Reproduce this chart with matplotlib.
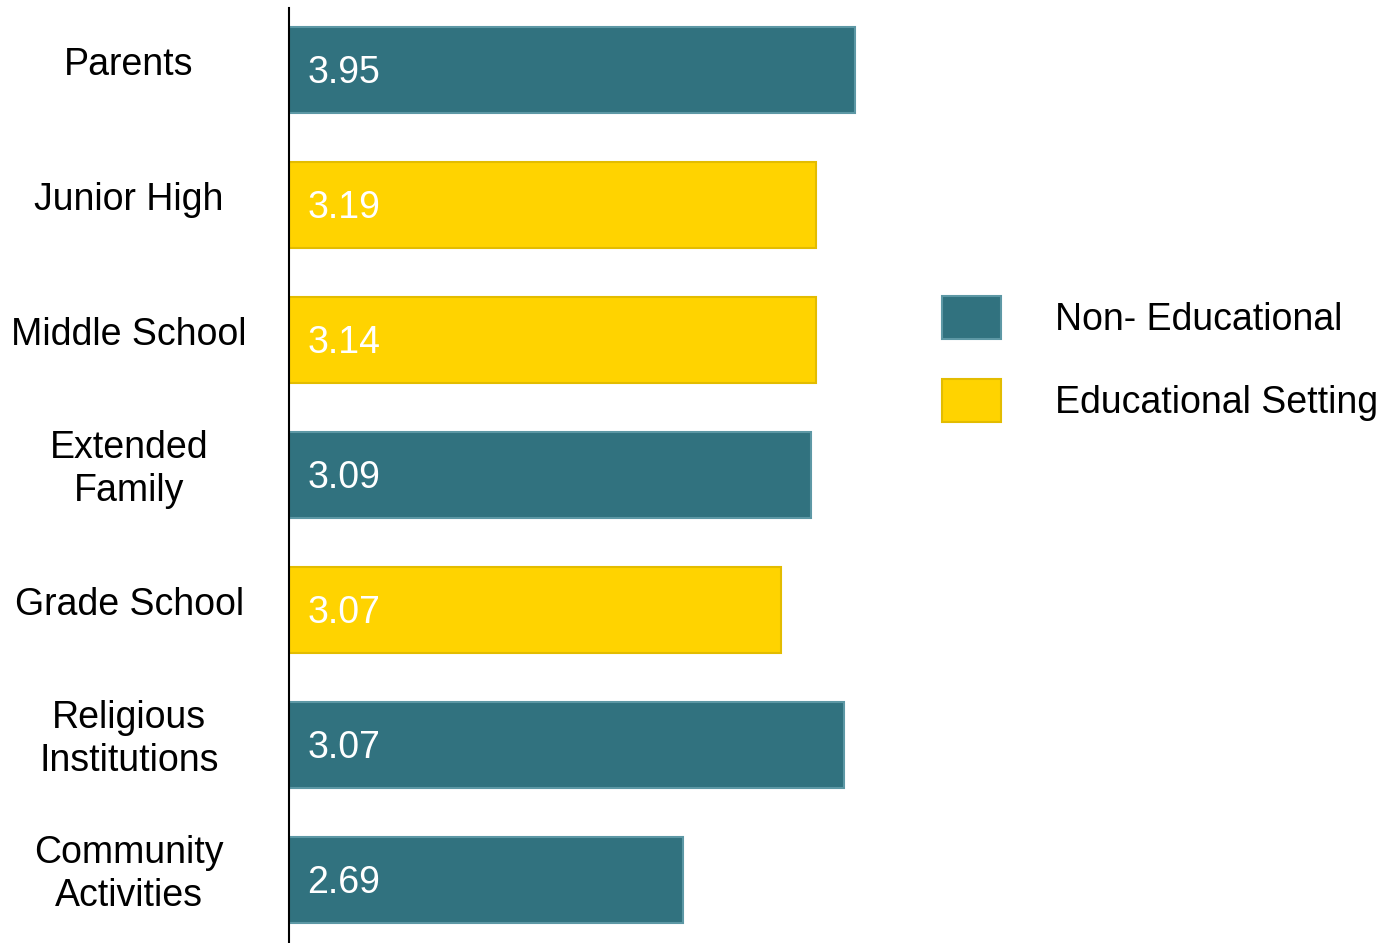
import matplotlib.pyplot as plt
from matplotlib.patches import Patch
from matplotlib.transforms import blended_transform_factory

# categories top to bottom
categories = ["Parents", "Junior High", "Middle School", "Extended\nFamily",
              "Grade School", "Religious\nInstitutions", "Community\nActivities"]
value_labels = ["3.95", "3.19", "3.14", "3.09", "3.07", "3.07", "2.69"]
# bar lengths as drawn in the source picture (same units as the values)
bar_lengths = [3.95, 3.68, 3.68, 3.64, 3.43, 3.87, 2.75]
groups = ["non", "edu", "edu", "non", "edu", "non", "non"]

group_names = {"non": "Non- Educational", "edu": "Educational Setting"}
face = {"non": "#31727F", "edu": "#FFD300"}
edge = {"non": "#5D98A5", "edu": "#E3BC00"}

plt.rcParams["font.family"] = ["Liberation Sans", "DejaVu Sans"]

fig = plt.figure(figsize=(13.88, 9.43), dpi=100)
ax = fig.add_axes([0.2085, 0.0, 1 - 0.2085, 0.9915])

ypos = list(range(len(categories)))
ax.barh(ypos, bar_lengths, height=0.64,
        color=[face[g] for g in groups],
        edgecolor=[edge[g] for g in groups], linewidth=1.5)

ax.set_xlim(0, 7.67)
ax.set_ylim(6.467, -0.459)

for i, lab in enumerate(value_labels):
    ax.annotate(lab, xy=(0, i), xytext=(13, -2.5), textcoords="offset points",
                ha="left", va="center", color="white", fontsize=27)

trans = blended_transform_factory(fig.transFigure, ax.transData)
for i, cat in enumerate(categories):
    ax.text(0.093, i - 0.04, cat, transform=trans, ha="center", va="center",
            multialignment="center", fontsize=27, linespacing=1.25)

for s in ["top", "right", "bottom"]:
    ax.spines[s].set_visible(False)
ax.spines["left"].set_linewidth(1.5)
ax.set_xticks([])
ax.set_yticks([])

handles = [Patch(facecolor=face[g], edgecolor=edge[g], linewidth=1.5, label=group_names[g])
           for g in ["non", "edu"]]
fig.legend(handles=handles, loc="upper left", bbox_to_anchor=(942 / 1388, 1 - 296 / 943),
           frameon=False, fontsize=27, handlelength=1.57, handleheight=1.4,
           handletextpad=1.45, labelspacing=1.05, borderpad=0, borderaxespad=0)

fig.savefig("out.png", dpi=100)
